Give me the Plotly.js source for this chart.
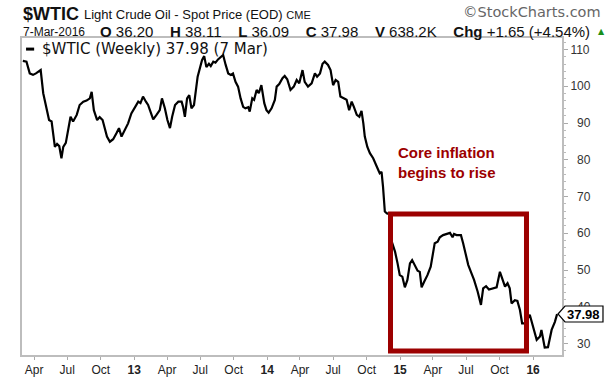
<!DOCTYPE html>
<html>
<head>
<meta charset="utf-8">
<script src="https://cdn.plot.ly/plotly-3.0.1.min.js"></script>
<style>html,body{margin:0;padding:0;background:#fff;}#chart{width:612px;height:378px;}</style>
</head>
<body>
<div id="chart"></div>
<script>
// Weekly closes of $WTIC
const dates = [
"2012-03-01","2012-03-11","2012-03-20","2012-03-29","2012-04-06","2012-04-15","2012-04-19","2012-04-26","2012-05-05","2012-05-12","2012-05-19","2012-05-23","2012-05-28","2012-06-03","2012-06-09","2012-06-15","2012-06-20","2012-06-27","2012-07-03","2012-07-10","2012-07-17","2012-07-27","2012-08-04","2012-08-14","2012-08-23","2012-09-01","2012-09-06","2012-09-12","2012-09-21","2012-09-28","2012-10-06","2012-10-12","2012-10-18","2012-10-26","2012-11-04","2012-11-13","2012-11-20","2012-11-27","2012-12-06","2012-12-15","2012-12-24",
"2013-01-03","2013-01-12","2013-01-18","2013-01-25","2013-02-02","2013-02-08","2013-02-13","2013-02-22","2013-03-03","2013-03-12","2013-03-18","2013-03-26","2013-04-02","2013-04-09","2013-04-15","2013-04-23","2013-05-02","2013-05-11","2013-05-15","2013-05-20","2013-05-26","2013-06-01","2013-06-07","2013-06-14","2013-06-24","2013-06-30","2013-07-06","2013-07-12","2013-07-18","2013-07-25","2013-07-30","2013-08-06","2013-08-12","2013-08-19","2013-08-27","2013-09-02","2013-09-09","2013-09-16","2013-09-23","2013-09-29","2013-10-06","2013-10-13","2013-10-20","2013-10-27","2013-11-02","2013-11-10","2013-11-14","2013-11-21","2013-11-26","2013-12-03","2013-12-09","2013-12-16","2013-12-24","2013-12-30",
"2014-01-05","2014-01-13","2014-01-22","2014-01-27","2014-02-03","2014-02-12","2014-02-18","2014-02-25","2014-03-06","2014-03-15","2014-03-23","2014-03-30","2014-04-08","2014-04-14","2014-04-23","2014-05-03","2014-05-12","2014-05-18","2014-05-26","2014-06-02","2014-06-08","2014-06-17","2014-06-24","2014-07-01","2014-07-08","2014-07-15","2014-07-21","2014-07-30","2014-08-07","2014-08-14","2014-08-21","2014-08-27","2014-09-04","2014-09-11","2014-09-17","2014-09-22","2014-09-26","2014-10-03","2014-10-10","2014-10-19","2014-10-26","2014-11-02","2014-11-06","2014-11-11","2014-11-15","2014-11-20","2014-11-26","2014-12-04","2014-12-09","2014-12-18","2014-12-25","2014-12-31",
"2015-01-07","2015-01-14","2015-01-21","2015-01-28","2015-02-03","2015-02-10","2015-02-18","2015-02-24","2015-03-01","2015-03-08","2015-03-17","2015-03-26","2015-04-01","2015-04-06","2015-04-14","2015-04-20","2015-04-29","2015-05-09","2015-05-18","2015-05-25","2015-05-29","2015-06-05","2015-06-17","2015-06-23","2015-06-30","2015-07-07","2015-07-16","2015-07-23","2015-08-02","2015-08-11","2015-08-17","2015-08-25","2015-09-02","2015-09-14","2015-09-23","2015-10-02","2015-10-08","2015-10-16","2015-10-23","2015-10-29","2015-11-03","2015-11-12","2015-11-19","2015-11-26","2015-12-02","2015-12-10","2015-12-23",
"2016-01-01","2016-01-11","2016-01-20","2016-01-24","2016-02-02","2016-02-11","2016-02-21","2016-03-01","2016-03-07"
];
const closes = [
106.9,106.7,103.5,103.1,103.5,104.2,104.4,98.1,94.4,90.8,90.4,87.2,83.5,84.3,83.7,80.4,83.5,84.6,87.6,91.7,90.4,92.2,94.9,95.8,96.1,96.7,98.5,93.5,90.8,91.6,90.8,88.1,86.3,84.9,85.6,87.2,88.6,86.3,88.1,89.9,92.6,
94.4,95.8,95.4,97.2,95.8,94.9,93.5,91.0,92.2,93.5,96.7,94.0,90.8,88.6,91.7,94.9,95.8,95.8,94.4,91.7,96.7,97.6,94.0,94.9,102.6,104.9,107.1,108.2,105.2,106.1,105.5,106.7,106.4,107.3,108.0,108.5,105.8,103.5,103.1,103.5,101.2,99.9,96.7,94.4,94.0,94.3,93.1,96.7,96.3,99.0,98.1,100.3,95.4,93.5,
92.8,94.0,96.3,99.9,100.6,102.2,102.8,101.9,99.0,99.9,101.7,100.8,104.4,101.2,99.9,100.8,103.5,102.6,103.5,106.1,106.7,105.8,104.4,100.3,101.7,101.2,97.2,96.7,96.3,93.5,95.8,94.4,92.2,91.7,93.3,89.9,86.3,83.5,81.8,80.4,79.0,77.2,76.3,76.7,72.7,65.9,65.4,65.2,57.7,55.0,51.8,48.6,
48.2,45.3,47.3,51.8,52.7,51.4,49.8,49.5,45.3,46.8,48.6,50.9,54.1,57.3,57.7,58.9,59.5,59.8,60.1,58.9,59.8,59.5,59.5,57.3,54.5,51.4,49.1,47.3,44.1,40.5,45.0,45.6,44.7,45.0,45.3,49.5,47.7,45.5,46.4,45.0,40.9,41.8,41.6,39.1,35.5,35.5,37.8,
34.6,31.0,31.9,33.7,28.9,29.0,33.7,35.9,37.98
];
const xTickDates = ["2012-04-01","2012-07-01","2012-10-01","2013-01-01","2013-04-01","2013-07-01","2013-10-01","2014-01-01","2014-04-01","2014-07-01","2014-10-01","2015-01-01","2015-04-01","2015-07-01","2015-10-01","2016-01-01"];
const xTickLabels = ["Apr","Jul","Oct","<b>13</b>","Apr","Jul","Oct","<b>14</b>","Apr","Jul","Oct","<b>15</b>","Apr","Jul","Oct","<b>16</b>"];
const yTickValues = [30,40,50,60,70,80,90,100,110];
const yTickLabels = ["\u200730","\u200740","\u200750","\u200760","\u200770","\u200780","\u200790","100","110"];

const quoteLetters = ["O","H","L","C","V","Chg"];
const quoteValues = ["36.20","38.11","36.09","37.98","638.2K","+1.65 (+4.54%)"];

const boxStart = "2014-12-05 14:00", boxEnd = "2015-12-14", boxLow = 27.96, boxHigh = 65.24;
const lastValue = "37.98";

const red = "#9c0000";
const arial = "Arial, 'Liberation Sans', sans-serif";

const quoteText = quoteLetters.map((l, i) =>
  "<span style='font-size:15px'><b>" + l + "</b></span> " + quoteValues[i]).join("&nbsp;&nbsp;&nbsp;&nbsp;");

const trace = {
  x: dates, y: closes, type: "scatter", mode: "lines",
  line: {color: "#000", width: 2.2}, hoverinfo: "skip"
};

const row1 = 1.0757, row2 = 1.0205;

const layout = {
  width: 612, height: 378,
  margin: {l: 22, r: 50, t: 38, b: 23, pad: 0},
  paper_bgcolor: "#fff", plot_bgcolor: "#fff",
  showlegend: false,
  xaxis: {
    type: "date", range: ["2012-02-27 17:00", "2016-03-20 12:00"],
    tickmode: "array", tickvals: xTickDates, ticktext: xTickLabels,
    ticks: "outside", ticklen: 3, tickwidth: 1, tickcolor: "#aaa",
    showline: true, linecolor: "#bdbdbd", linewidth: 2, mirror: true,
    showgrid: false, zeroline: false,
    tickfont: {family: arial, size: 12, color: "#222"}
  },
  yaxis: {
    side: "right", range: [26.87, 113.13],
    tickmode: "array", tickvals: yTickValues, ticktext: yTickLabels,
    ticks: "outside", ticklen: 4, tickwidth: 1, tickcolor: "#aaa",
    minor: {tickmode: "linear", tick0: 0, dtick: 2, ticks: "outside", ticklen: 2, tickcolor: "#bbb", showgrid: false},
    showline: true, linecolor: "#bdbdbd", linewidth: 2, mirror: true,
    showgrid: false, zeroline: false,
    tickfont: {family: arial, size: 12, color: "#333"}
  },
  shapes: [
    {type: "rect", xref: "x", yref: "y", x0: boxStart, x1: boxEnd, y0: boxLow, y1: boxHigh,
     line: {color: red, width: 5}, fillcolor: "rgba(0,0,0,0)", layer: "above"},
    {type: "line", xref: "paper", yref: "paper", x0: 0.0075, x1: 0.0225, y0: 0.965, y1: 0.965,
     line: {color: "#000", width: 3}},
    {type: "path", xref: "paper", yref: "paper",
     path: "M 0.9926,0.1293 L 1.0056,0.1546 L 1.0759,0.1546 L 1.0759,0.1041 L 1.0056,0.1041 Z",
     fillcolor: "#fff", line: {color: "#000", width: 1.2}, layer: "above"}
  ],
  annotations: [
    {xref: "paper", yref: "paper", x: -0.002, y: row1, xanchor: "left", yanchor: "middle", showarrow: false,
     text: "<b>$WTIC</b>", font: {family: arial, size: 18, color: "#111"}},
    {xref: "paper", yref: "paper", x: 0.1115, y: row1 - 0.003, xanchor: "left", yanchor: "middle", showarrow: false,
     text: "Light Crude Oil - Spot Price (EOD) <span style='font-size:11px'>CME</span>",
     font: {family: arial, size: 13, color: "#111"}},
    {xref: "paper", yref: "paper", x: 1.075, y: 1.081, xanchor: "right", yanchor: "middle", showarrow: false,
     text: "©StockCharts.com", font: {family: "'DejaVu Sans', Verdana, sans-serif", size: 14.5, color: "#666"}},
    {xref: "paper", yref: "paper", x: -0.002, y: row2, xanchor: "left", yanchor: "middle", showarrow: false,
     text: "7-Mar-2016", font: {family: arial, size: 12, color: "#111"}},
    {xref: "paper", yref: "paper", x: 1.056, y: row2, xanchor: "right", yanchor: "middle", showarrow: false,
     text: quoteText, font: {family: arial, size: 15, color: "#111"}},
    {xref: "paper", yref: "paper", x: 1.073, y: row2, xanchor: "center", yanchor: "middle", showarrow: false,
     text: "▲", font: {family: "'DejaVu Sans', sans-serif", size: 8, color: "#1a8f1a"}},
    {xref: "paper", yref: "paper", x: 0.033, y: 0.965, xanchor: "left", yanchor: "middle", showarrow: false,
     text: "$WTIC (Weekly) 37.98 (7 Mar)", font: {family: "'DejaVu Sans', Verdana, sans-serif", size: 15, color: "#111"}},
    {xref: "paper", yref: "paper", x: 0.6926, y: 0.6088, xanchor: "left", yanchor: "middle", showarrow: false, align: "left",
     text: "<b>Core inflation<br>begins to rise</b>", font: {family: arial, size: 15, color: red}},
    {xref: "paper", yref: "paper", x: 1.0407, y: 0.1293, xanchor: "center", yanchor: "middle", showarrow: false,
     text: "<b>" + lastValue + "</b>", font: {family: arial, size: 13, color: "#000"}}
  ]
};

Plotly.newPlot("chart", [trace], layout, {staticPlot: true, displayModeBar: false});
</script>
</body>
</html>
